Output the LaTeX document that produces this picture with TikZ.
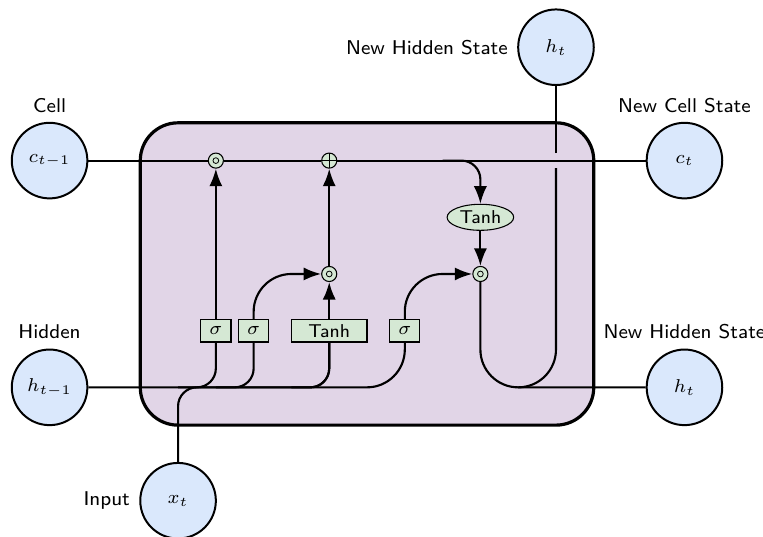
\documentclass[tikz,border=0pt]{standalone}
\usetikzlibrary{shapes.geometric,arrows.meta,calc}
\definecolor{cellfill}{HTML}{E1D5E7}
\definecolor{gatefill}{HTML}{D5E8D4}
\definecolor{extfill}{HTML}{DAE8FC}
\begin{document}
\begin{tikzpicture}[
  font=\scriptsize\sffamily, >=LaTeX,
  cellbox/.style={rectangle, rounded corners=5mm, draw, very thick, fill=cellfill, minimum height=4cm, minimum width=6cm},
  muxnode/.style={circle, draw, fill=gatefill, inner sep=0pt, minimum size=0.2cm,
    path picture={\draw[line width=0.3pt] (path picture bounding box.center) circle (0.038cm);}},
  addnode/.style={circle, draw, fill=gatefill, inner sep=0pt, minimum size=0.2cm,
    path picture={\draw[line width=0.4pt] (path picture bounding box.north) -- (path picture bounding box.south)
      (path picture bounding box.west) -- (path picture bounding box.east);}},
  funcnode/.style={ellipse, draw, fill=gatefill, inner sep=1pt},
  extnode/.style={circle, draw, line width=.75pt, fill=extfill, minimum width=1cm, inner sep=1pt},
  gatebox/.style={rectangle, draw, fill=gatefill, minimum width=4mm, minimum height=3mm, inner sep=1pt},
  lbl/.style={font=\fontsize{7.5}{9}\selectfont\sffamily},
  arrowsmall/.style={rounded corners=.25cm, thick},
  arrowbig/.style={rounded corners=.5cm, thick},
]
\useasboundingbox (-4.856,-3.467) rectangle (5.239,3.625);

% cell
\node[cellbox] (cell) at (0,0) {};

% gates
\node[gatebox] (ibox1) at (-2,-0.75) {$\sigma$};
\node[gatebox] (ibox2) at (-1.5,-0.75) {$\sigma$};
\node[gatebox, minimum width=1cm] (ibox3) at (-0.5,-0.75) {Tanh};
\node[gatebox] (ibox4) at (0.5,-0.75) {$\sigma$};

% operators
\node[muxnode] (mux1) at (-2,1.5) {};
\node[addnode] (add1) at (-0.5,1.5) {};
\node[muxnode] (mux2) at (-0.5,0) {};
\node[muxnode] (mux3) at (1.5,0) {};
\node[funcnode] (func1) at (1.5,0.75) {Tanh};

% external
\node[extnode, label={[lbl]Cell}] (c) at (-4.2,1.5) {$c_{t-1}$};
\node[extnode, label={[lbl]Hidden}] (h) at (-4.2,-1.5) {$h_{t-1}$};
\node[extnode, label={[lbl]left:Input}] (x) at (-2.5,-3) {$x_t$};
\node[extnode, label={[lbl]New Cell State}] (c2) at (4.2,1.5) {$c_t$};
\node[extnode, label={[lbl]New Hidden State}] (h2) at (4.2,-1.5) {$h_t$};
\node[extnode, label={[lbl]left:New Hidden State}] (x2) at (2.5,3) {$h_t$};

% helper coordinates
\coordinate (s1) at ($(h -| ibox1)+(-0.5,0)$);
\coordinate (s2) at ($(h -| ibox2)+(-0.5,0)$);
\coordinate (s3) at ($(h -| ibox3)+(-0.5,0)$);
\coordinate (f1) at ($(add1 -| func1)+(-0.5,0)$);
\coordinate (i1) at ($(c2 -| x2)+(0,-0.1)$);
\coordinate (i2) at ($(c2 -| x2)+(0,0.1)$);
\coordinate (o1) at ($(h2 -| x2)+(-0.5,0)$);

% cell state line
\draw[arrowsmall] (c) -- (mux1) -- (add1) -- (c2);

% inputs
\draw[arrowbig] (h) -| (ibox4);
\draw[arrowsmall] (s1) -| (ibox1);
\draw[arrowsmall] (s2) -| (ibox2);
\draw[arrowsmall] (s3) -| (ibox3);
\draw[arrowsmall] (x) -- (x |- h) -| (ibox3);

% internal
\draw[->, arrowbig] (ibox1) -- (mux1);
\draw[->, arrowbig] (ibox2) |- (mux2);
\draw[->, arrowbig] (ibox3) -- (mux2);
\draw[->, arrowbig] (ibox4) |- (mux3);
\draw[->, arrowbig] (mux2) -- (add1);
\draw[->, arrowsmall] (f1) -| (func1);
\draw[->, arrowbig] (func1) -- (mux3);

% outputs
\draw[arrowbig] (mux3) |- (h2);
\draw[arrowbig] (o1) -| (i1);
\draw[arrowbig] (i2) -- (x2);
\end{tikzpicture}
\end{document}
